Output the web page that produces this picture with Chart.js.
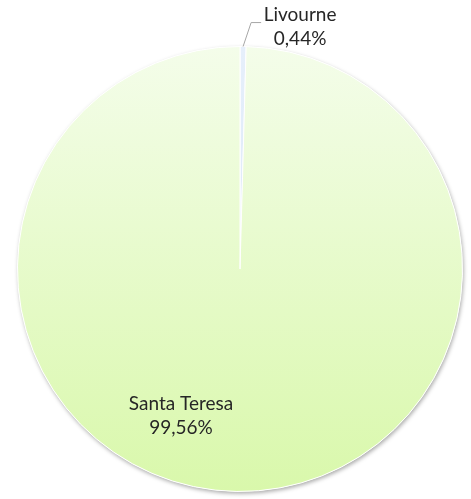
<!DOCTYPE html>
<html><head><meta charset="utf-8">
<script src="https://cdn.jsdelivr.net/npm/chart.js@4.4.0/dist/chart.umd.min.js"></script>
<style>html,body{margin:0;padding:0;background:#fff;}#wrap{width:471px;height:499px;}</style>
</head><body><div id="wrap"><canvas id="c" width="471" height="499"></canvas></div>
<script>
const categories = ["Livourne", "Santa Teresa"];
const values = [0.44, 99.56];
const valueLabels = ["0,44%", "99,56%"];

const fillTop = ['#e6effb', '#f4fdea'];
const fillBottom = ['#d4e3f7', '#d9f8ab'];

function sliceFill(ctx) {
  const chart = ctx.chart;
  const i = ctx.dataIndex;
  const a = chart.chartArea;
  if (!a || i === undefined) return fillBottom[i || 0];
  const g = chart.ctx.createLinearGradient(0, a.top, 0, a.bottom);
  g.addColorStop(0, fillTop[i]);
  g.addColorStop(1, fillBottom[i]);
  return g;
}

const shadowPlugin = {
  id: 'shadow',
  beforeDatasetsDraw(chart) {
    const arcs = chart.getDatasetMeta(0).data;
    if (!arcs.length) return;
    const c = chart.ctx;
    c.save();
    c.shadowColor = 'rgba(0,0,0,0.35)';
    c.shadowBlur = 4;
    c.shadowOffsetX = 1;
    c.shadowOffsetY = 2;
    c.fillStyle = '#ffffff';
    c.beginPath();
    c.arc(arcs[0].x, arcs[0].y, arcs[0].outerRadius, 0, Math.PI * 2);
    c.fill();
    c.restore();
  }
};

const labelPlugin = {
  id: 'labels',
  afterDraw(chart) {
    const c = chart.ctx;
    const arcs = chart.getDatasetMeta(0).data;
    const cx = arcs[0].x, cy = arcs[0].y, r = arcs[0].outerRadius;
    c.save();
    c.fillStyle = '#262626';
    c.font = '19px Lato, "Open Sans", sans-serif';
    c.textAlign = 'center';
    c.textBaseline = 'middle';
    const a0 = (arcs[0].startAngle + arcs[0].endAngle) / 2;
    const ex = cx + Math.cos(a0) * r, ey = cy + Math.sin(a0) * r;
    const ly = cy - 1.13 * r;
    c.strokeStyle = '#a6a6a6';
    c.lineWidth = 1;
    c.beginPath();
    c.moveTo(ex, ey);
    c.lineTo(cx + 0.05 * r, ly + 5);
    c.lineTo(cx + 0.095 * r, ly + 5);
    c.stroke();
    const lx = cx + 0.27 * r;
    c.fillText(categories[0], lx, cy - 1.143 * r);
    c.fillText(valueLabels[0], lx, cy - 1.035 * r);
    const sx = cx - 0.265 * r;
    c.fillText(categories[1], sx, cy + 0.605 * r);
    c.fillText(valueLabels[1], sx, cy + 0.713 * r);
    c.restore();
  }
};

new Chart(document.getElementById('c'), {
  type: 'pie',
  data: {
    labels: categories,
    datasets: [{
      data: values,
      backgroundColor: sliceFill,
      borderColor: '#ffffff',
      borderWidth: 1
    }]
  },
  options: {
    responsive: false,
    animation: false,
    rotation: 0,
    layout: { padding: { top: 46, bottom: 7, left: 17, right: 8 } },
    plugins: { legend: { display: false }, tooltip: { enabled: false } }
  },
  plugins: [shadowPlugin, labelPlugin]
});
</script></body></html>
